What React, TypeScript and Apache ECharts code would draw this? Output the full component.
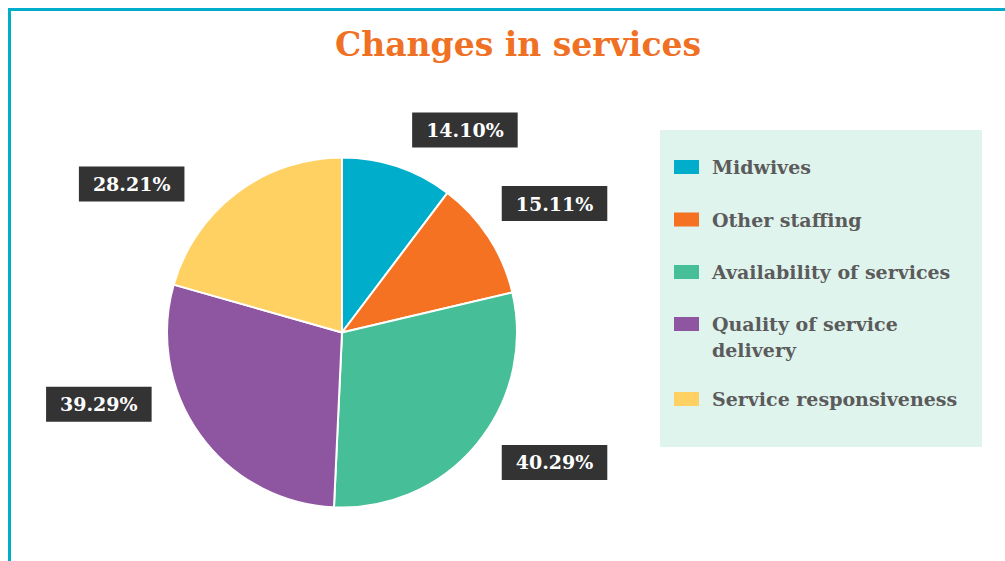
import React, { useEffect, useRef } from 'react';
import * as echarts from 'echarts';

const titleText = 'Changes in services';
const categories = [
  'Midwives',
  'Other staffing',
  'Availability of services',
  'Quality of service delivery',
  'Service responsiveness',
];
const values = [14.1, 15.11, 40.29, 39.29, 28.21];
const colors = ['#00adcb', '#f47221', '#46be97', '#8e55a1', '#fed162'];

const FONT = 'DejaVu Serif';
// nudges applied to the library's own outside label placement
const labelNudges: [number, number][] = [
  [0, -8],
  [-17, -17],
  [-3, -1],
  [-19, -48],
  [-29, 15],
];

const legendText = {
  fontFamily: FONT,
  fontWeight: 'bold',
  fontSize: 19,
  color: '#5b5b5b',
  width: 250,
  overflow: 'break',
  lineHeight: 26,
  padding: [0, 0, 0, 8],
};

export default function App() {
  const ref = useRef<HTMLDivElement>(null);
  useEffect(() => {
    const chart = echarts.init(ref.current!, null, { renderer: 'svg' });
    const legendCommon = {
      orient: 'vertical',
      left: 660,
      itemWidth: 25,
      itemHeight: 14,
      itemGap: 26.5,
      icon: 'rect',
      selectedMode: false,
      itemStyle: { borderWidth: 0 },
      textStyle: legendText,
    };
    chart.setOption({
      animation: false,
      title: {
        text: titleText,
        left: 513,
        textAlign: 'center',
        top: 23,
        textStyle: { fontFamily: FONT, fontWeight: 'bold', fontSize: 33, color: '#f07124' },
      },
      legend: [
        {
          ...legendCommon,
          top: 130,
          backgroundColor: '#e0f4ee',
          padding: [24, 20, 162, 14],
          data: categories.slice(0, 3),
        },
        {
          ...legendCommon,
          top: 311,
          padding: [0, 20, 0, 14],
          itemHeight: 52,
          // swatch sits level with the first of the two text lines
          icon: 'path://M0,0L0.01,0M25,52L25.01,52M0,6h25v14h-25z',
          data: categories.slice(3, 4),
        },
        {
          ...legendCommon,
          top: 386,
          padding: [0, 20, 0, 14],
          data: categories.slice(4),
        },
      ],
      series: [
        {
          type: 'pie',
          center: [342, 332.5],
          radius: 175,
          startAngle: 90,
          clockwise: true,
          silent: true,
          itemStyle: { borderColor: '#ffffff', borderWidth: 2 },
          label: {
            show: true,
            position: 'outside',
            formatter: (p: any) => Number(p.value).toFixed(2) + '%',
            color: '#ffffff',
            backgroundColor: '#333333',
            padding: [8, 14],
            fontFamily: FONT,
            fontWeight: 'bold',
            fontSize: 19,
          },
          labelLine: { show: false, length: 30, length2: 0 },
          labelLayout: (p: any) => ({ dx: labelNudges[p.dataIndex][0], dy: labelNudges[p.dataIndex][1] }),
          data: categories.map((n, i) => ({ name: n, value: values[i], itemStyle: { color: colors[i] } })),
        },
      ],
    });
    return () => chart.dispose();
  }, []);
  return (
    <div style={{ position: 'fixed', left: 0, top: 0, width: 1005, height: 561, overflow: 'hidden', background: '#fff' }}>
      <div
        style={{
          position: 'absolute',
          left: 8,
          top: 8,
          width: 1100,
          height: 700,
          borderTop: '3px solid #01adca',
          borderLeft: '3px solid #01adca',
        }}
      />
      <div ref={ref} style={{ position: 'absolute', left: 0, top: 0, width: 1005, height: 561 }} />
    </div>
  );
}
